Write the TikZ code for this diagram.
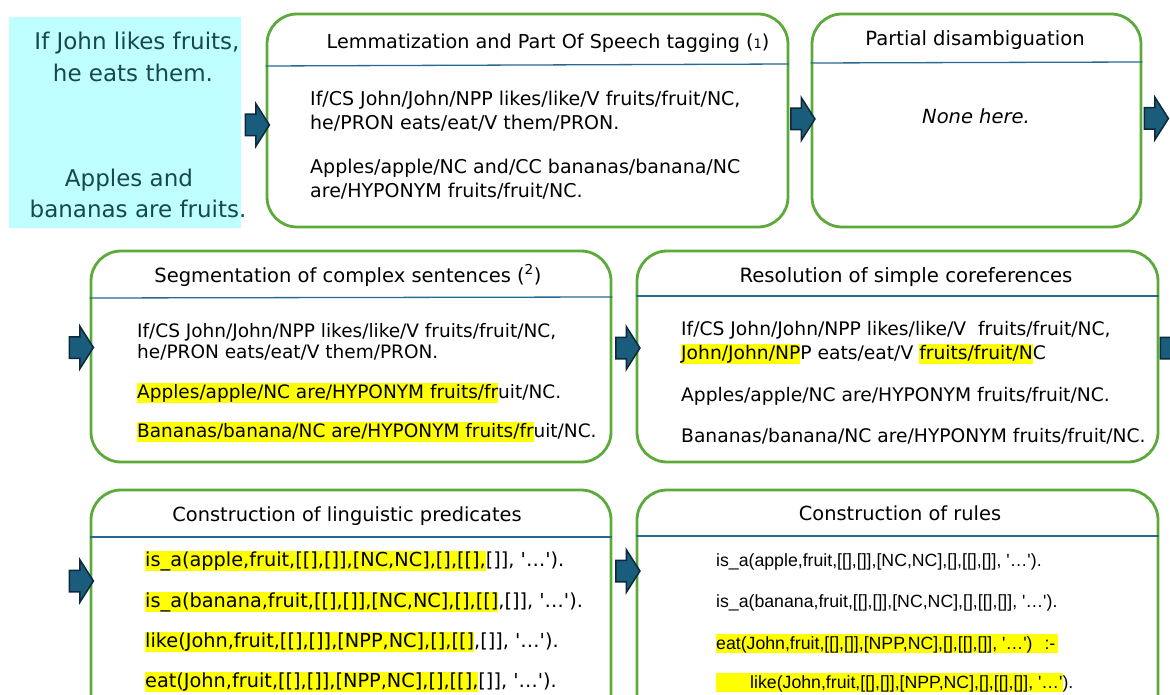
\documentclass[tikz,border=0pt]{standalone}
\usepackage{fontspec}
\setmainfont{DejaVu Sans}
\newfontfamily\arialf{Liberation Sans}
\usetikzlibrary{shapes.arrows}
\definecolor{boxgreen}{RGB}{92,170,58}
\definecolor{divblue}{RGB}{40,105,145}
\definecolor{arrfill}{RGB}{26,92,124}
\definecolor{arrdraw}{RGB}{12,40,58}
\definecolor{cyanbg}{RGB}{192,255,255}
\definecolor{tealtext}{RGB}{24,72,76}
\definecolor{hly}{RGB}{255,255,0}
\newcommand\q{\textquotesingle}
\newcommand\hl[1]{{\fboxsep=0pt\colorbox{hly}{\rule[-5pt]{0pt}{20pt}#1}}}
\newcommand\hlr[1]{{\fboxsep=0pt\colorbox{hly}{\rule[-3pt]{0pt}{18pt}#1}}}
\begin{document}
\begin{tikzpicture}[x=1pt,y=-1pt,
  stage/.style={draw=boxgreen, line width=2.8pt, rounded corners=30pt, fill=white, inner sep=0pt},
  divider/.style={draw=divblue, line width=1.3pt},
  blockarrow/.style={single arrow, fill=arrfill, draw=arrdraw, line width=1.5pt, inner sep=0pt,
     minimum height=24pt, single arrow head extend=10.5pt, single arrow tip angle=115},
  srctext/.style={font=\fontsize{23pt}{26pt}\selectfont, text=tealtext, inner sep=0pt, anchor=base},
  ttl/.style={font=\fontsize{19.4pt}{22pt}\selectfont, inner sep=0pt, anchor=base},
  body/.style={font=\fontsize{18.7pt}{22pt}\selectfont, inner sep=0pt, anchor=base west},
  rbody/.style={font=\arialf\fontsize{17.7pt}{21pt}\selectfont, inner sep=0pt, anchor=base west}]
\path[use as bounding box] (0,0) rectangle (1170,695);
\clip (0,0) rectangle (1170,695);
\fill[white] (0,0) rectangle (1170,695);

% source text
\node[fill=cyanbg, minimum width=232pt, minimum height=211pt, inner sep=0pt] (src) at (125,122.5) {};
\node[srctext] (s1) at (137,50) {If John likes fruits,};
\node[srctext] (s2) at (133,82) {he eats them.};
\node[srctext] (s3) at (129,187) {Apples and};
\node[srctext] (s4) at (138,218) {bananas are fruits.};

% row 1
\node[stage, minimum width=521pt, minimum height=213pt] (b1) at (527.5,120.5) {};
\draw[divider] (b1.west |- 0,66) -- (b1.east |- 0,64);
\node[ttl, font=\fontsize{19.2pt}{22pt}\selectfont] (t1) at (548,49) {Lemmatization and Part Of Speech tagging ({\fontsize{13pt}{13pt}\selectfont 1})};
\node[body, font=\fontsize{19pt}{22pt}\selectfont] (b1l1) at (310,106) {If/CS John/John/NPP likes/like/V fruits/fruit/NC,};
\node[body, font=\fontsize{19pt}{22pt}\selectfont] (b1l2) at (310,130) {he/PRON eats/eat/V them/PRON.};
\node[body, font=\fontsize{19pt}{22pt}\selectfont] (b1l3) at (310,174) {Apples/apple/NC and/CC bananas/banana/NC};
\node[body, font=\fontsize{19pt}{22pt}\selectfont] (b1l4) at (310,198) {are/HYPONYM fruits/fruit/NC.};

\node[stage, minimum width=329pt, minimum height=213pt] (b2) at (976.5,120.5) {};
\draw[divider] (b2.west |- 0,63) -- (b2.east |- 0,62);
\node[ttl, font=\fontsize{19.6pt}{22pt}\selectfont] (t2) at (975,46) {Partial disambiguation};
\node[ttl, font=\fontsize{19.5pt}{22pt}\selectfont\itshape] (n2) at (976,124) {None here.};

% row 2
\node[stage, minimum width=520pt, minimum height=211pt] (b3) at (351,356.5) {};
\draw[divider] (b3.west |- 0,298) -- (b3.east |- 0,297);
\node[ttl, font=\fontsize{19.5pt}{22pt}\selectfont] (t3) at (348,282) {Segmentation of complex sentences (\textsuperscript{2})};
\node[body, font=\fontsize{18.5pt}{22pt}\selectfont] (b3l1) at (137,337) {If/CS John/John/NPP likes/like/V fruits/fruit/NC,};
\node[body, font=\fontsize{18.5pt}{22pt}\selectfont] (b3l2) at (137,358) {he/PRON eats/eat/V them/PRON.};
\node[body, font=\fontsize{18.5pt}{22pt}\selectfont] (b3l3) at (137,398) {\hl{Apples/apple/NC are/HYPONYM fruits/fr}uit/NC.};
\node[body, font=\fontsize{18.5pt}{22pt}\selectfont] (b3l4) at (137,437) {\hl{Bananas/banana/NC are/HYPONYM fruits/fr}uit/NC.};

\node[stage, minimum width=521pt, minimum height=211pt] (b4) at (897.5,356.5) {};
\draw[divider] (b4.west |- 0,296) -- (b4.east |- 0,296);
\node[ttl, font=\fontsize{19.7pt}{22pt}\selectfont] (t4) at (906,282) {Resolution of simple coreferences};
\node[body] (b4l1) at (681,335) {If/CS John/John/NPP likes/like/V\ \ fruits/fruit/NC,};
\node[body] (b4l2) at (681,359) {\hl{John/John/NP}P eats/eat/V \hl{fruits/fruit/N}C};
\node[body] (b4l3) at (681,401) {Apples/apple/NC are/HYPONYM fruits/fruit/NC.};
\node[body] (b4l4) at (681,442) {Bananas/banana/NC are/HYPONYM fruits/fruit/NC.};

% row 3
\node[stage, minimum width=520pt, minimum height=240pt] (b5) at (351,610) {};
\draw[divider] (b5.west |- 0,537) -- (b5.east |- 0,537);
\node[ttl] (t5) at (347,521) {Construction of linguistic predicates};
\node[body, font=\fontsize{19.3pt}{22pt}\selectfont] (b5l1) at (145,566) {\hl{is\_a(apple,fruit,[[],[]],[NC,NC],[],[[],}[]], \q…\q).};
\node[body, font=\fontsize{19.3pt}{22pt}\selectfont] (b5l2) at (145,607) {\hl{is\_a(banana,fruit,[[],[]],[NC,NC],[],[[]},[]], \q…\q).};
\node[body, font=\fontsize{19.3pt}{22pt}\selectfont] (b5l3) at (145,647) {\hl{like(John,fruit,[[],[]],[NPP,NC],[],[[]},[]], \q…\q).};
\node[body, font=\fontsize{19.3pt}{22pt}\selectfont] (b5l4) at (145,687) {\hl{eat(John,fruit,[[],[]],[NPP,NC],[],[[],}[]], \q…\q).};

\node[stage, minimum width=521pt, minimum height=240pt] (b6) at (897.5,610) {};
\draw[divider] (b6.west |- 0,536) -- (b6.east |- 0,536);
\node[ttl] (t6) at (900,520) {Construction of rules};
\node[rbody] (b6l1) at (716,566) {is\_a(apple,fruit,[[],[]],[NC,NC],[],[[],[]], \q…\q).};
\node[rbody] (b6l2) at (716,607) {is\_a(banana,fruit,[[],[]],[NC,NC],[],[[],[]], \q…\q).};
\node[rbody] (b6l3) at (716,649) {\hlr{eat(John,fruit,[[],[]],[NPP,NC],[],[[],[]], \q…\q)\hspace{12pt}:-\hspace{3pt}}};
\node[rbody] (b6l4) at (716,688) {\hlr{\hspace*{34pt}like(John,fruit,[[],[]],[NPP,NC],[],[[],[]], \q…\q}).};

% block arrows
\node[blockarrow] (a1) at (254,125) {\rule{0pt}{20pt}};
\node[blockarrow] (a2) at (799.5,119) {\rule{0pt}{20pt}};
\node[blockarrow] (a3) at (1153,118.5) {\rule{0pt}{20pt}};
\node[blockarrow] (a4) at (78,347.5) {\rule{0pt}{20pt}};
\node[blockarrow] (a5) at (624.5,348) {\rule{0pt}{20pt}};
\node[blockarrow] (a6) at (1169,348) {\rule{0pt}{20pt}};
\node[blockarrow] (a7) at (78,581) {\rule{0pt}{20pt}};
\node[blockarrow] (a8) at (624.5,571) {\rule{0pt}{20pt}};
\end{tikzpicture}
\end{document}
